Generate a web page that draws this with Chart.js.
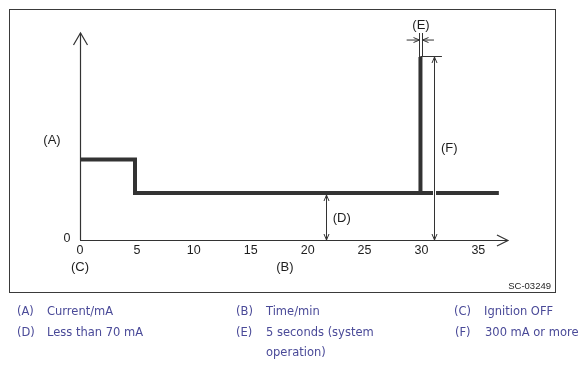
<!DOCTYPE html>
<html>
<head>
<meta charset="utf-8">
<script src="https://cdn.jsdelivr.net/npm/chart.js@4/dist/chart.umd.min.js"></script>
<style>
  body { margin: 0; background: #fff; width: 587px; height: 366px; position: relative; overflow: hidden; }
  #frame { position: absolute; left: 9px; top: 9px; width: 545px; height: 282px; border: 1px solid #3a3a3a; }
  #chart { position: absolute; left: 0; top: 0; }
  .key { position: absolute; font-family: "DejaVu Sans", Verdana, sans-serif; font-size: 11.5px; line-height: 20px; color: #4a4a98; }
  .key span { position: absolute; left: 0; }
  .key div { position: absolute; left: 30px; width: 150px; white-space: normal; }
</style>
</head>
<body>
<div id="frame"></div>
<canvas id="chart" width="587" height="366"></canvas>

<div class="key" style="left:17px; top:301px;"><span>(A)</span><div>Current/mA</div></div>
<div class="key" style="left:236px; top:301px;"><span>(B)</span><div>Time/min</div></div>
<div class="key" style="left:454px; top:301px;"><span>(C)</span><div>Ignition OFF</div></div>
<div class="key" style="left:17px; top:322px;"><span>(D)</span><div>Less than 70 mA</div></div>
<div class="key" style="left:236px; top:322px;"><span>(E)</span><div style="width:140px">5 seconds (system operation)</div></div>
<div class="key" style="left:455px; top:322px;"><span>(F)</span><div>300 mA or more</div></div>

<script>
// Current trace (time in minutes, current in relative units)
const timeMin = [0, 4.83, 4.83, 29.9, 29.9, 29.92, 29.92, 36.8];
const current = [38.9, 38.9, 22.7, 22.7, 88.4, 88.4, 22.7, 22.7];

// Axis tick labels
const xTicks = [0, 5, 10, 15, 20, 25, 30, 35];

// Dimension markers
const markD = { x: 21.6, from: 22.7, to: 0 };
const markF = { x: 31.1, from: 88.4, to: 0 };
const markE = { left: 29.8, right: 30.04 };

const traceData = timeMin.map((t, i) => ({ x: t, y: current[i] }));

const ink = '#1e1e1e';
const labelFont = '13px "Liberation Sans", Arial, sans-serif';
const tickFont = '12.5px "Liberation Sans", Arial, sans-serif';

function arrowHead(ctx, x, y, dx, dy, len, half) {
    // open chevron pointing in direction (dx, dy) with tip at (x, y)
    const nx = -dy, ny = dx;
    ctx.beginPath();
    ctx.moveTo(x - dx * len + nx * half, y - dy * len + ny * half);
    ctx.lineTo(x, y);
    ctx.lineTo(x - dx * len - nx * half, y - dy * len - ny * half);
    ctx.stroke();
}

function line(ctx, x1, y1, x2, y2) {
    ctx.beginPath();
    ctx.moveTo(x1, y1);
    ctx.lineTo(x2, y2);
    ctx.stroke();
}

const drawingPlugin = {
    id: 'drawing',
    beforeDatasetsDraw(chart) {
        const ctx = chart.ctx;
        const xs = chart.scales.x, ys = chart.scales.y;
        const x0 = xs.getPixelForValue(0), y0 = ys.getPixelForValue(0);
        ctx.save();
        ctx.strokeStyle = '#333';
        ctx.lineWidth = 1.2;
        // axes
        const xEnd = xs.getPixelForValue(37.6);
        const yTop = ys.getPixelForValue(100);
        line(ctx, x0, y0 + 0.5, xEnd, y0 + 0.5);
        line(ctx, x0 + 0.5, y0, x0 + 0.5, yTop);
        arrowHead(ctx, xEnd, y0 + 0.5, 1, 0, 11, 5.5);
        arrowHead(ctx, x0 + 0.5, yTop, 0, -1, 12, 7);

        // tick labels
        ctx.fillStyle = ink;
        ctx.font = tickFont;
        ctx.textAlign = 'center';
        ctx.textBaseline = 'middle';
        xTicks.forEach(t => ctx.fillText(String(t), xs.getPixelForValue(t), y0 + 11));
        ctx.fillText('0', x0 - 13, y0 - 1);
        ctx.font = labelFont;
        ctx.fillText('(A)', x0 - 28, ys.getPixelForValue(48.3));
        ctx.fillText('(C)', x0, y0 + 27);
        ctx.fillText('(B)', xs.getPixelForValue(18), y0 + 27);
        ctx.restore();
    },
    afterDatasetsDraw(chart) {
        const ctx = chart.ctx;
        const xs = chart.scales.x, ys = chart.scales.y;
        ctx.save();
        ctx.lineWidth = 1;

        // (D) dimension
        ctx.strokeStyle = '#333';
        let dx = Math.round(xs.getPixelForValue(markD.x)) + 0.5;
        let top = ys.getPixelForValue(markD.from) + 2, bot = ys.getPixelForValue(markD.to);
        line(ctx, dx, top, dx, bot);
        arrowHead(ctx, dx, top, 0, -1, 6, 2.5);
        arrowHead(ctx, dx, bot, 0, 1, 6, 2.5);

        // (F) dimension, with a white gap where it crosses the trace
        let fx = Math.round(xs.getPixelForValue(markF.x)) + 0.5;
        let fTop = ys.getPixelForValue(markF.from), fBot = ys.getPixelForValue(markF.to);
        const yLow = ys.getPixelForValue(22.7);
        ctx.fillStyle = '#fff';
        ctx.fillRect(fx - 1.5, yLow - 3, 3, 6);
        line(ctx, fx, fTop, fx, fBot);
        arrowHead(ctx, fx, fTop, 0, -1, 6, 2.5);
        arrowHead(ctx, fx, fBot, 0, 1, 6, 2.5);
        line(ctx, xs.getPixelForValue(29.9), Math.round(fTop) - 0.5, xs.getPixelForValue(31.8), Math.round(fTop) - 0.5);

        // (E) dimension
        const eL = Math.round(xs.getPixelForValue(markE.left)) + 0.5;
        const eR = Math.round(xs.getPixelForValue(markE.right)) + 0.5;
        const eTop = ys.getPixelForValue(100);
        const eArrow = ys.getPixelForValue(96.6);
        line(ctx, eL, eTop, eL, fTop);
        line(ctx, eR, eTop, eR, fTop);
        line(ctx, xs.getPixelForValue(28.7), eArrow, eL, eArrow);
        arrowHead(ctx, eL, eArrow, 1, 0, 6, 2.5);
        line(ctx, xs.getPixelForValue(31.1), eArrow, eR, eArrow);
        arrowHead(ctx, eR, eArrow, -1, 0, 6, 2.5);

        // labels
        ctx.fillStyle = ink;
        ctx.font = labelFont;
        ctx.textAlign = 'center';
        ctx.textBaseline = 'middle';
        ctx.fillText('(D)', xs.getPixelForValue(23.0), ys.getPixelForValue(10.6));
        ctx.fillText('(F)', xs.getPixelForValue(32.45), ys.getPixelForValue(44.4));
        ctx.fillText('(E)', (eL + eR) / 2, eTop - 8);

        ctx.font = '9.5px "Liberation Sans", Arial, sans-serif';
        ctx.textAlign = 'right';
        ctx.fillText('SC-03249', 551, 286);
        ctx.restore();
    }
};

new Chart(document.getElementById('chart'), {
    type: 'line',
    data: {
        datasets: [{
            data: traceData,
            borderColor: '#333',
            borderWidth: 4,
            pointRadius: 0,
            tension: 0,
            fill: false,
            borderJoinStyle: 'miter',
            borderCapStyle: 'butt'
        }]
    },
    options: {
        responsive: false,
        animation: false,
        events: [],
        layout: { padding: { left: 80, top: 33, right: 74.5, bottom: 126 } },
        scales: {
            x: { type: 'linear', min: 0, max: 38, display: false },
            y: { type: 'linear', min: 0, max: 100, display: false }
        },
        plugins: {
            legend: { display: false },
            tooltip: { enabled: false }
        }
    },
    plugins: [drawingPlugin]
});
</script>
</body>
</html>
